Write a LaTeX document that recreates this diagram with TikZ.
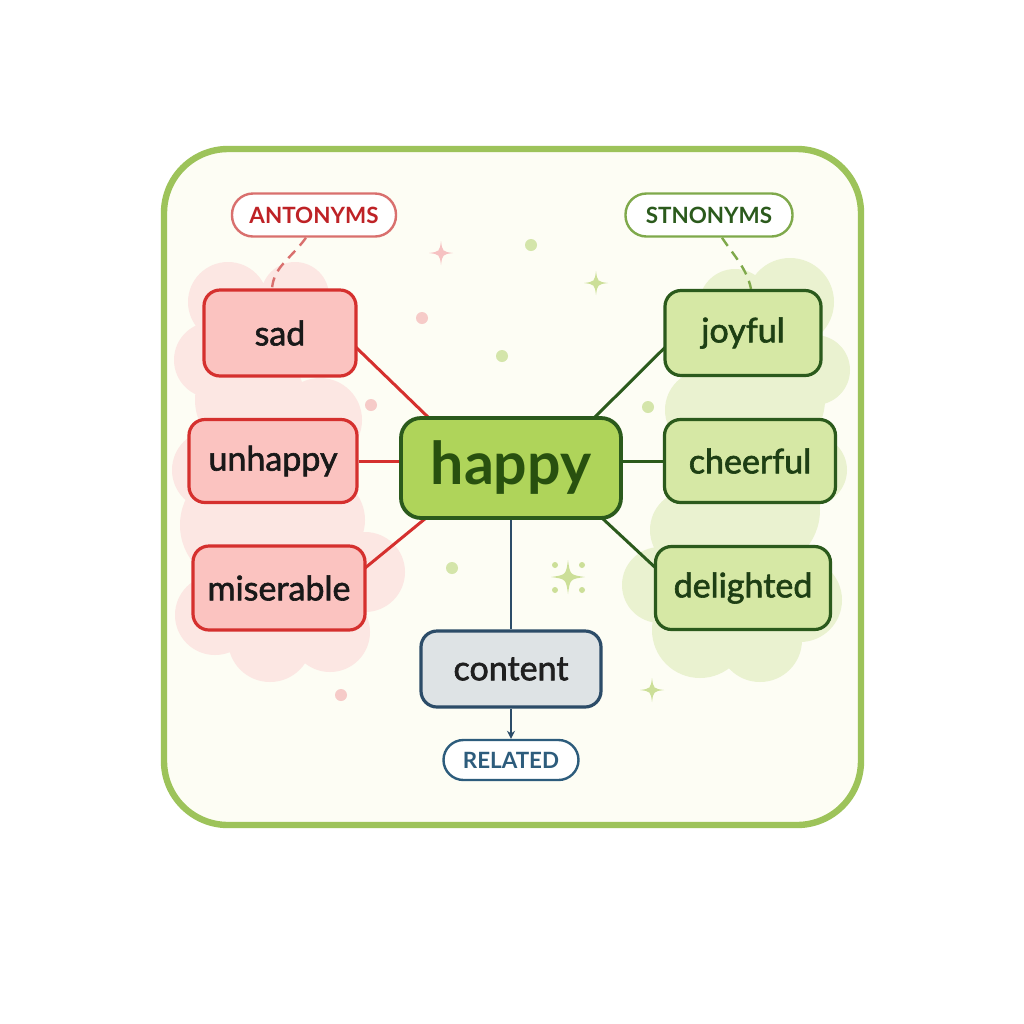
\documentclass[tikz,border=0pt]{standalone}
\usepackage{fontspec}
\setmainfont{Lato}
\newfontfamily\wordfont{Lato}[FakeBold=1.8]
\newfontfamily\headfont{Lato Bold}
\usetikzlibrary{calc,arrows.meta}
\pgfdeclarelayer{bg}
\pgfdeclarelayer{lines}
\pgfsetlayers{bg,lines,main}
\definecolor{framec}{HTML}{9DC35A}
\definecolor{paper}{HTML}{FDFDF4}
\definecolor{redb}{HTML}{D5302E}
\definecolor{redf}{HTML}{FBC3C0}
\definecolor{redt}{HTML}{BE2226}
\definecolor{redl}{HTML}{D9706E}
\definecolor{pinkc}{HTML}{FCE7E3}
\definecolor{greenb}{HTML}{2B5A1C}
\definecolor{greenf}{HTML}{D6E8A5}
\definecolor{greenl}{HTML}{7FA94B}
\definecolor{greenc}{HTML}{EAF2D0}
\definecolor{happyf}{HTML}{AFD45A}
\definecolor{happyt}{HTML}{28500F}
\definecolor{blueb}{HTML}{2C4C68}
\definecolor{bluef}{HTML}{DEE3E5}
\definecolor{bluet}{HTML}{2D5C7C}
\definecolor{sparkp}{HTML}{F6C2C2}
\definecolor{sparkg}{HTML}{CCDF98}
\definecolor{dotg}{HTML}{D4E5AA}
\definecolor{dotp}{HTML}{F6CBC8}
\tikzset{
  x=0.5pt, y=-0.5pt,
  wordbox/.style={rounded corners=8pt, line width=1.6pt, align=center,
    font=\wordfont\fontsize{17}{18}\selectfont, inner sep=0pt},
  antbox/.style={wordbox, draw=redb, fill=redf, text=black!90},
  synbox/.style={wordbox, draw=greenb, fill=greenf, text=greenb!70!black},
  pill/.style={rounded corners=10.5pt, line width=1.2pt, fill=white, inner sep=0pt,
    font=\headfont\fontsize{11.2}{12}\selectfont},
  redline/.style={draw=redb, line width=1.5pt},
  greenline/.style={draw=greenb, line width=1.5pt},
  blueline/.style={draw=blueb, line width=1.4pt},
  sparkle/.pic={\fill (0,-1) .. controls (0.12,-0.12) .. (1,0) .. controls (0.12,0.12) .. (0,1) .. controls (-0.12,0.12) .. (-1,0) .. controls (-0.12,-0.12) .. cycle;},
}
\begin{document}
\begin{tikzpicture}
\useasboundingbox (0,0) rectangle (1024,1024);
\begin{pgfonlayer}{bg}
  \fill[white] (0,0) rectangle (1024,1024);
  \draw[framec, line width=3.2pt, fill=paper, rounded corners=32pt] (164,149) rectangle (861,825);
  % pink cloud
  \fill[pinkc] (228,302) circle (40) (295,296) circle (34) (212,360) circle (38)
    (250,400) circle (55) (320,420) circle (42) (212,470) circle (40)
    (240,525) circle (60) (320,520) circle (45) (365,572) circle (40)
    (215,615) circle (40) (270,640) circle (42) (330,632) circle (40) (280,580) circle (60);
  % green cloud
  \fill[greenc] (790,302) circle (44) (735,305) circle (36) (815,370) circle (35)
    (770,400) circle (55) (705,410) circle (40) (812,470) circle (35)
    (760,510) circle (60) (690,530) circle (40) (660,585) circle (38)
    (800,600) circle (42) (700,630) circle (48) (760,640) circle (42) (740,580) circle (60);
  % dots
  \fill[dotg] (531,245) circle (6) (502,356) circle (6) (648,407) circle (6) (452,568) circle (6);
  \fill[dotp] (422,318) circle (6) (371,405) circle (6) (341,695) circle (6);
  % sparkles
  \pic[sparkp, scale=12] at (441,253) {sparkle};
  \pic[sparkg, scale=12] at (596,283) {sparkle};
  \pic[sparkg, scale=17] at (568,577) {sparkle};
  \fill[sparkg] (555,565) circle (3) (582,565) circle (3) (555,590) circle (3) (582,590) circle (3);
  \pic[sparkg, scale=12] at (652,690) {sparkle};
\end{pgfonlayer}

% nodes
\node[pill, draw=redl, text=redt, minimum width=82pt, minimum height=21.5pt] (ant) at (314,215) {ANTONYMS};
\node[pill, draw=greenl, text=greenb, minimum width=83.5pt, minimum height=21.5pt] (syn) at (709,215) {STNONYMS};
\node[pill, draw=bluet, text=bluet, rounded corners=10pt, minimum width=67.5pt, minimum height=20pt] (rel) at (511,760) {RELATED};

\node[antbox, minimum width=76pt, minimum height=43pt] (sad) at (280,333) {sad};
\node[antbox, minimum width=84pt, minimum height=41.5pt] (unhappy) at (273,461) {unhappy};
\node[antbox, minimum width=86pt, minimum height=42pt] (miserable) at (279,588) {miserable};

\node[synbox, minimum width=78pt, minimum height=42.5pt] (joyful) at (743,333) {joyful};
\node[synbox, minimum width=85.5pt, minimum height=41.5pt] (cheerful) at (750,461) {cheerful};
\node[synbox, minimum width=87.5pt, minimum height=41.5pt] (delighted) at (743,588) {delighted};

\node[wordbox, draw=greenb, fill=happyf, text=happyt, line width=1.9pt, rounded corners=10pt,
  font=\headfont\fontsize{29.5}{32}\selectfont, minimum width=110pt, minimum height=50pt] (happy) at (511,468) {happy};
\node[wordbox, draw=blueb, fill=bluef, text=black!88, minimum width=90pt, minimum height=38pt] (content) at (511,669) {content};

% connectors
\begin{pgfonlayer}{lines}
  \draw[redline] ($(sad.east)+(-4,12)$) -- ($(happy.north west)+(30,2)$);
  \draw[redline] (unhappy.east) -- (unhappy.east -| happy.west);
  \draw[redline] ($(miserable.east)+(-4,-18)$) -- ($(happy.south west)+(27,-2)$);
  \draw[greenline] ($(happy.north east)+(-29,2)$) -- ($(joyful.west)+(4,12)$);
  \draw[greenline] (cheerful.west) -- (cheerful.west -| happy.east);
  \draw[greenline] ($(happy.south east)+(-21,-2)$) -- ($(delighted.west)+(4,-18)$);
  \draw[blueline] (happy.south) -- (content.north);
  \draw[blueline, -{Stealth[length=4pt,width=4pt]}] (content.south) -- (rel.north);
  \draw[redl, line width=1.2pt, dash pattern=on 5pt off 3.5pt] ($(ant.south)+(-8,0)$) .. controls +(-16,22) and +(2,-22) .. ($(sad.north)+(-8,0)$);
  \draw[greenl, line width=1.2pt, dash pattern=on 5pt off 3.5pt] ($(syn.south)+(13,0)$) .. controls +(12,18) and +(-4,-20) .. ($(joyful.north)+(8,0)$);
\end{pgfonlayer}
\end{tikzpicture}
\end{document}
